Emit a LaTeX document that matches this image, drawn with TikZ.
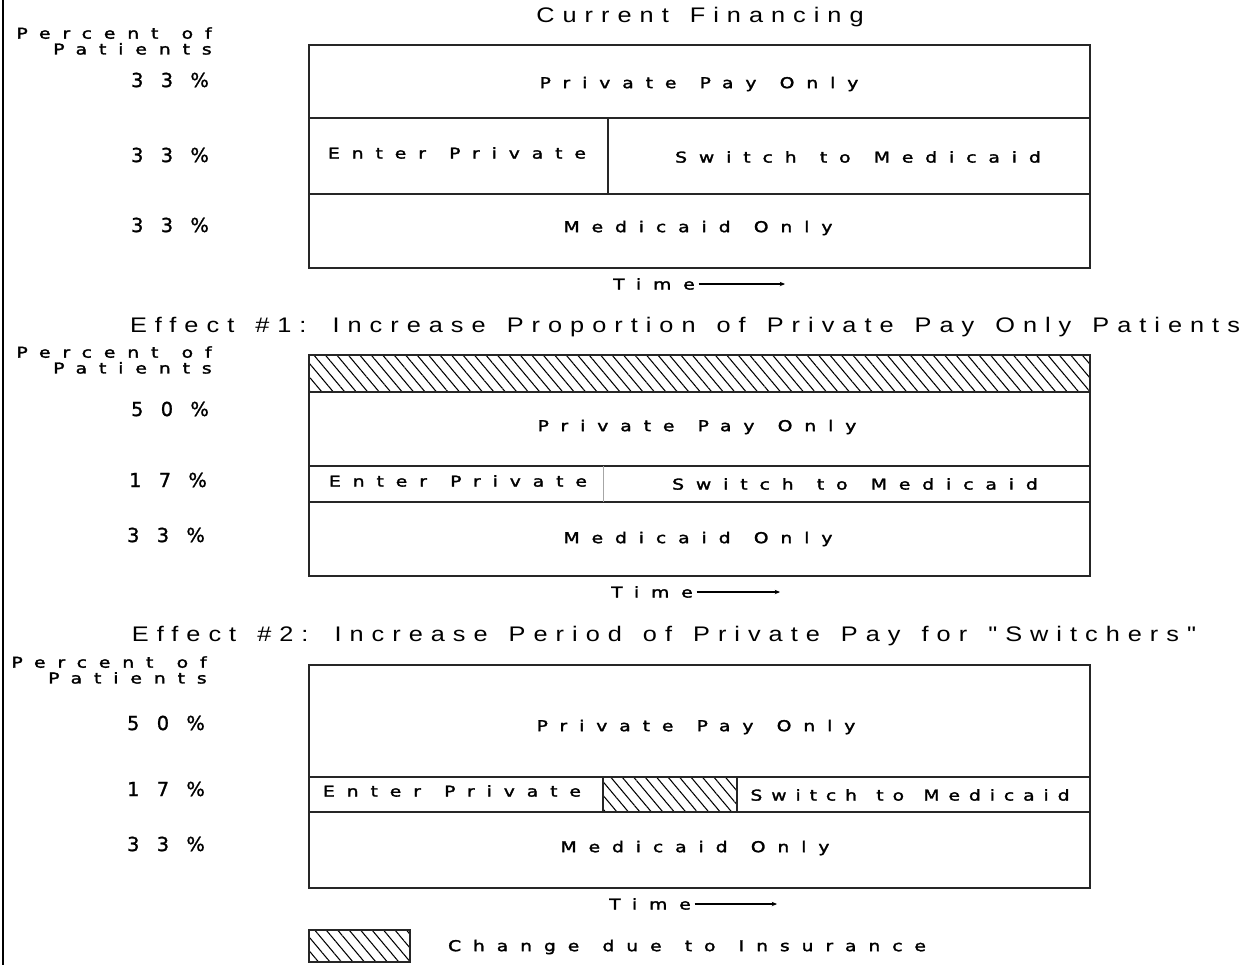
\documentclass[tikz,border=0pt]{standalone}
\usepackage{fontspec}
\setmainfont{Liberation Sans}
\newfontfamily\chartfont[LetterSpace=80,WordSpace=1.3,FakeBold=2,FakeStretch=1.25]{DejaVu Sans}
\newfontfamily\narrowfont[LetterSpace=60,WordSpace=1.3,FakeBold=2,FakeStretch=1.25]{DejaVu Sans}
\newfontfamily\pctfont[LetterSpace=90,FakeBold=1.2]{DejaVu Sans}
\newfontfamily\headfont[LetterSpace=38,WordSpace=1.4,FakeStretch=1.2]{Liberation Sans}
\usetikzlibrary{patterns.meta,arrows.meta}
\tikzset{every node/.style={inner sep=0pt},
    lbl/.style={font=\chartfont\fontsize{8.5}{8.5}\selectfont},
    tightlbl/.style={font=\narrowfont\fontsize{8.5}{8.5}\selectfont},
    pct/.style={font=\pctfont\fontsize{11}{11}\selectfont},
    yaxis/.style={font=\chartfont\fontsize{8.5}{9}\selectfont, align=right, anchor=east},
    head/.style={font=\headfont\fontsize{12}{12}\selectfont},
    frame/.style={draw=black!85, line width=1pt},
    hatch/.style={pattern={Lines[angle=-50,distance=5pt,line width=0.6pt]}},
    timearrow/.style={-{Stealth[length=3pt,width=2.5pt]}, line width=0.6pt},
    }

\begin{document}
\begin{tikzpicture}[x=0.02cm,y=-0.02cm]
\useasboundingbox (0,0) rectangle (1254,965);
\draw[line width=1.6pt] (3,0) -- (3,965);
% current financing
\node[head] (head0) at (700,17) {Current Financing};
\node[yaxis] (axis0) at (212,41) {Percent of\\Patients};
\node[pct] (pct0a) at (170,80) {33\%};
\node[pct] (pct0b) at (170,155) {33\%};
\node[pct] (pct0c) at (170,225) {33\%};
\draw[frame] (309,45) rectangle (1090,268);
\draw[frame] (309,118) -- (1090,118) (309,194) -- (1090,194) (608,118) -- (608,194);
\node[lbl] (pp0) at (699,84) {Private Pay Only};
\node[lbl] (ep0) at (457,153) {Enter Private};
\node[lbl] (sm0) at (858,157) {Switch to Medicaid};
\node[lbl] (mo0) at (698,228) {Medicaid Only};
\node[lbl] (time0) at (654,284) {Time};
\coordinate (time0end) at (785,284);
\draw[timearrow] ([xshift=2pt]time0.east) -- (time0end |- time0.east);
% effect 1
\node[head] (head1) at (685,327) {Effect \#1: Increase Proportion of Private Pay Only Patients};
\node[yaxis] (axis1) at (212,360) {Percent of\\Patients};
\node[pct] (pct1a) at (170,409) {50\%};
\node[pct] (pct1b) at (168,480) {17\%};
\node[pct] (pct1c) at (166,535) {33\%};
\draw[frame, hatch] (309,355) rectangle (1090,392);
\draw[frame] (309,392) rectangle (1090,576);
\draw[frame] (309,466) -- (1090,466) (309,502) -- (1090,502);
\draw[black!35, line width=0.4pt] (603,466) -- (603,502);
\node[lbl] (pp1) at (697,427) {Private Pay Only};
\node[lbl] (ep1) at (458,481) {Enter Private};
\node[lbl] (sm1) at (855,484) {Switch to Medicaid};
\node[lbl] (mo1) at (698,539) {Medicaid Only};
\node[lbl] (time1) at (652,592) {Time};
\coordinate (time1end) at (780,592);
\draw[timearrow] ([xshift=2pt]time1.east) -- (time1end |- time1.east);
% effect 2
\node[head] (head2) at (664,636) {Effect \#2: Increase Period of Private Pay for "Switchers"};
\node[yaxis] (axis2) at (207,670) {Percent of\\Patients};
\node[pct] (pct2a) at (166,723) {50\%};
\node[pct] (pct2b) at (166,789) {17\%};
\node[pct] (pct2c) at (166,844) {33\%};
\draw[frame, hatch] (603,777) rectangle (737,812);
\draw[frame] (309,665) rectangle (1090,888);
\draw[frame] (309,777) -- (1090,777) (309,812) -- (1090,812);
\node[lbl] (pp2) at (696,727) {Private Pay Only};
\node[lbl] (ep2) at (452,791) {Enter Private};
\node[tightlbl] (sm2) at (910,795) {Switch to Medicaid};
\node[lbl] (mo2) at (695,848) {Medicaid Only};
\node[lbl] (time2) at (650,904) {Time};
\coordinate (time2end) at (777,904);
\draw[timearrow] ([xshift=2pt]time2.east) -- (time2end |- time2.east);
% legend
\draw[frame, hatch] (309,930) rectangle (410,962);
\node[lbl] (key) at (687,947) {Change due to Insurance};
\end{tikzpicture}
\end{document}
